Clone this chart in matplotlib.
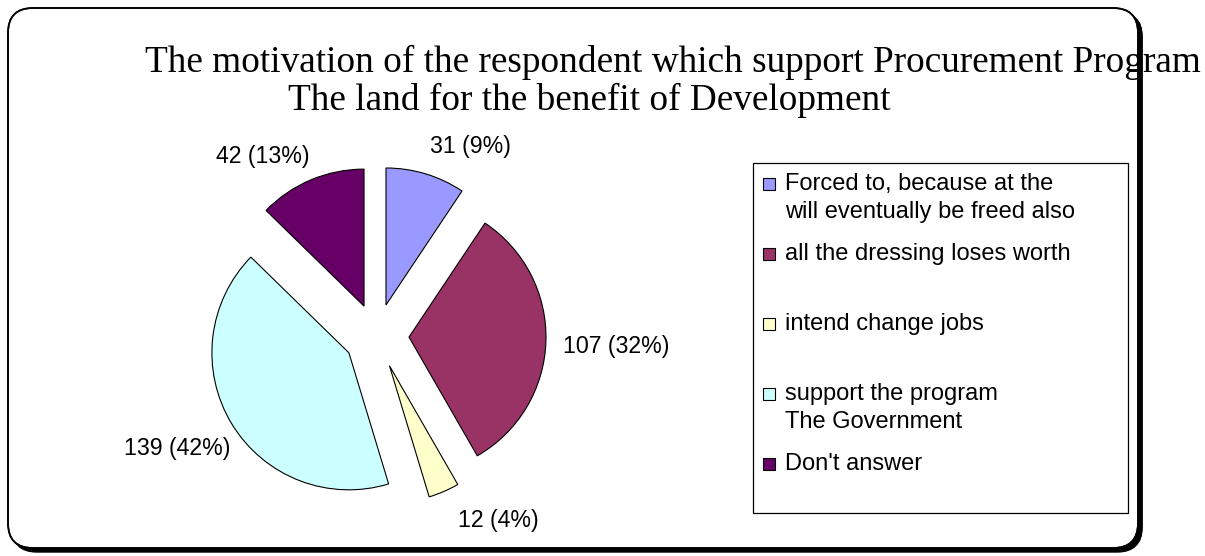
import matplotlib.pyplot as plt
from matplotlib.patches import FancyBboxPatch, Rectangle

W, H = 1205, 556

title_lines = [
    "The motivation of the respondent which support Procurement Program",
    "The land for the benefit of Development",
]
categories = [
    "Forced to, because at the\nwill eventually be freed also",
    "all the dressing loses worth",
    "intend change jobs",
    "support the program\nThe Government",
    "Don't answer",
]
counts = [31, 107, 12, 139, 42]
colors = ["#9999FF", "#993366", "#FFFFCC", "#CCFFFF", "#660066"]

total = sum(counts)
value_labels = [f"{v} ({round(v / total * 100)}%)" for v in counts]

fig = plt.figure(figsize=(W / 100, H / 100), dpi=100)
ax = fig.add_axes([0, 0, 1, 1])

# pie in pixel units (y flipped below, so counterclock=True reads clockwise)
# explode is an absolute offset here, not a fraction
wedges, _ = ax.pie(counts, colors=colors, startangle=-90, counterclock=True,
                   radius=137, center=(376.6, 336), explode=[32.4] * len(counts),
                   wedgeprops=dict(edgecolor="black", linewidth=0.8))
for w in wedges:
    w.set_zorder(3)

ax.set_xlim(0, W)
ax.set_ylim(H, 0)
ax.set_aspect("equal")
ax.axis("off")

# chart area frame + shadow
box = "round,pad=0,rounding_size=25"
ax.add_patch(FancyBboxPatch((12, 12), 1130, 540, boxstyle=box, fc="black", ec="black", lw=1, zorder=0))
ax.add_patch(FancyBboxPatch((8, 8), 1130, 540, boxstyle=box, fc="white", ec="black", lw=1.2, zorder=1))
# redraw the right-hand shadow and outline above the title, which runs past the frame
top_shadow = FancyBboxPatch((12, 12), 1130, 540, boxstyle=box, fc="black", ec="black", lw=1, zorder=5)
ax.add_patch(top_shadow)
clip = Rectangle((1138.6, 0), 30, H, transform=ax.transData)
top_shadow.set_clip_path(clip)
ax.add_patch(FancyBboxPatch((8, 8), 1130, 540, boxstyle=box, fc="none", ec="black", lw=1.2, zorder=5))

# title
ax.text(145, 72, title_lines[0], ha="left", va="baseline", fontsize=26.8,
        family="Liberation Serif", zorder=2)
ax.text(288, 110, title_lines[1], ha="left", va="baseline", fontsize=26.8,
        family="Liberation Serif", zorder=2)

# data labels
label_xy = [(470, 147), (616, 347), (498, 520), (177, 448), (263, 157)]
for (x, y), txt in zip(label_xy, value_labels):
    ax.text(x, y, txt, ha="center", va="center", fontsize=16.7,
            family="Liberation Sans", zorder=4)

# legend
ax.add_patch(Rectangle((753, 163), 375, 350, fc="white", ec="black", lw=0.9, zorder=2))
for i, (name, c) in enumerate(zip(categories, colors)):
    yc = 184 + 70 * i
    ax.add_patch(Rectangle((763, yc - 6), 12, 12, fc=c, ec="black", lw=0.8, zorder=3))
    for k, line in enumerate(name.split("\n")):
        ax.text(785, yc + 28 * k, line, ha="left", va="center", fontsize=17,
                family="Liberation Sans", zorder=3)

fig.savefig("out.png", dpi=100, facecolor="white")
